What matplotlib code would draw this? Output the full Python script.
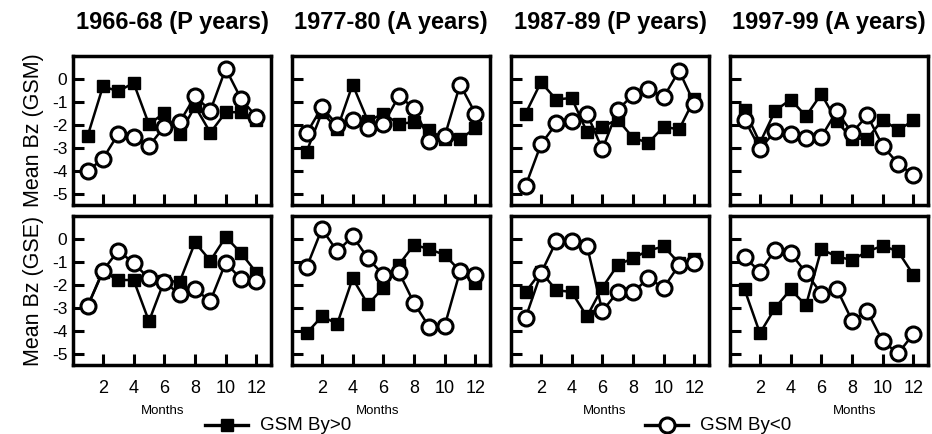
import matplotlib
matplotlib.use("Agg")
import matplotlib.pyplot as plt
import numpy as np

plt.rcParams['font.family'] = ['Liberation Sans', 'DejaVu Sans']

months = np.arange(1, 13)
titles = ["1966-68 (P years)", "1977-80 (A years)", "1987-89 (P years)", "1997-99 (A years)"]
row_labels = ["Mean Bz (GSM)", "Mean Bz (GSE)"]
xtick_vals = [2, 4, 6, 8, 10, 12]
ytick_vals = [0, -1, -2, -3, -4, -5]
legend_pos = ["GSM By>0", "GSM By<0"]

# GSM row, By>0 (squares)
gsm_pos_1966 = [-2.48, -0.32, -0.53, -0.17, -1.97, -1.47, -2.40, -1.18, -2.33, -1.44, -1.44, -1.76]
gsm_pos_1977 = [-3.16, -1.44, -2.16, -0.24, -1.83, -1.50, -1.95, -1.87, -2.22, -2.62, -2.62, -2.12]
gsm_pos_1987 = [-1.50, -0.14, -0.89, -0.82, -2.30, -2.07, -1.76, -2.55, -2.77, -2.07, -2.19, -0.86]
gsm_pos_1997 = [-1.35, -2.77, -1.37, -0.89, -1.61, -0.65, -1.83, -2.59, -2.59, -1.76, -2.22, -1.80]
# GSM row, By<0 (circles)
gsm_neg_1966 = [-3.99, -3.46, -2.38, -2.51, -2.91, -2.07, -1.87, -0.75, -1.37, 0.45, -0.86, -1.64]
gsm_neg_1977 = [-2.36, -1.22, -2.00, -1.80, -2.12, -1.97, -0.75, -1.25, -2.67, -2.48, -0.24, -1.50]
gsm_neg_1987 = [-4.64, -2.84, -1.93, -1.83, -1.50, -3.05, -1.35, -0.68, -0.43, -0.78, 0.36, -1.07]
gsm_neg_1997 = [-1.76, -3.03, -2.26, -2.38, -2.55, -2.51, -1.40, -2.33, -1.58, -2.91, -3.67, -4.18]
# GSE row, By>0 (squares)
gse_pos_1966 = [-2.92, -1.42, -1.78, -1.78, -3.57, -1.81, -1.86, -0.15, -0.94, 0.09, -0.61, -1.46]
gse_pos_1977 = [-4.09, -3.36, -3.68, -1.71, -2.84, -2.11, -1.13, -0.25, -0.44, -0.69, -1.39, -1.90]
gse_pos_1987 = [-2.30, -1.42, -2.22, -2.30, -3.36, -2.11, -1.13, -0.83, -0.50, -0.32, -1.05, -0.88]
gse_pos_1997 = [-2.19, -4.09, -2.98, -2.19, -2.88, -0.44, -0.76, -0.91, -0.54, -0.29, -0.54, -1.56]
# GSE row, By<0 (circles)
gse_neg_1966 = [-2.92, -1.37, -0.50, -1.05, -1.71, -1.86, -2.40, -2.19, -2.69, -1.02, -1.75, -1.81]
gse_neg_1977 = [-1.23, 0.44, -0.54, 0.12, -0.83, -1.56, -1.42, -2.78, -3.83, -3.76, -1.40, -1.56]
gse_neg_1987 = [-3.42, -1.49, -0.10, -0.10, -0.29, -3.13, -2.30, -2.30, -1.71, -2.11, -1.13, -1.02]
gse_neg_1997 = [-0.79, -1.42, -0.47, -0.61, -1.46, -2.37, -2.15, -3.54, -3.14, -4.44, -4.97, -4.12]

pos_rows = [[gsm_pos_1966, gsm_pos_1977, gsm_pos_1987, gsm_pos_1997],
            [gse_pos_1966, gse_pos_1977, gse_pos_1987, gse_pos_1997]]
neg_rows = [[gsm_neg_1966, gsm_neg_1977, gsm_neg_1987, gsm_neg_1997],
            [gse_neg_1966, gse_neg_1977, gse_neg_1987, gse_neg_1997]]

W, H = 932, 434
fig = plt.figure(figsize=(W / 100, H / 100), dpi=100)

col_left = [73, 292, 511, 730]
ax_w = 198
row_top = [56, 216]
ax_h = 149
months_x = [163, 378, 605, 855]

sq_kw = dict(color='black', lw=1.8, marker='s', ms=9.3, mfc='black', mec='black', zorder=3)
ci_kw = dict(color='black', lw=1.8, marker='o', ms=10.8, mfc='white', mec='black', mew=2.2, zorder=4)

for r in range(2):
    for c in range(4):
        l = col_left[c] / W
        b = 1 - (row_top[r] + ax_h) / H
        ax = fig.add_axes([l, b, ax_w / W, ax_h / H])
        ax.plot(months, pos_rows[r][c], **sq_kw)
        ax.plot(months, neg_rows[r][c], **ci_kw)
        ax.set_xlim(0.05, 12.95)
        ax.set_ylim(-5.47, 1.0)
        ax.set_xticks(xtick_vals)
        ax.set_yticks(ytick_vals)
        for s in ax.spines.values():
            s.set_linewidth(2.5)
        ax.tick_params(direction='in', length=8, width=2.2, top=False, right=False)
        ax.tick_params(axis='x', labelsize=13, pad=11)
        ax.tick_params(axis='y', labelsize=12.5, pad=4)
        if c == 0:
            ax.set_yticklabels([str(v) for v in ytick_vals])
            ax.set_ylabel(row_labels[r], fontsize=15.5, labelpad=6)
        else:
            ax.set_yticklabels([])
        if r == 1:
            ax.set_xticklabels([str(v) for v in xtick_vals])
            fig.text(months_x[c] / W, 1 - 411 / H, "Months", fontsize=9.5,
                     ha='center', va='center')
        else:
            ax.set_xticklabels([])
        if r == 0:
            fig.text((col_left[c] + ax_w / 2) / W, 1 - 23 / H, titles[c],
                     fontsize=17, fontweight='bold', ha='center', va='center')

# legend-like keys at bottom
lax = fig.add_axes([0, 0, 1, 1], facecolor='none')
lax.set_xlim(0, W)
lax.set_ylim(H, 0)
lax.axis('off')
key_y = 425
lax.plot([205, 248], [key_y, key_y], color='black', lw=2.4)
lax.plot([226.5], [key_y], marker='s', ms=9.3, color='black')
lax.text(260, key_y, legend_pos[0], fontsize=13.5, ha='left', va='center')
lax.plot([645, 688], [key_y, key_y], color='black', lw=2.4)
lax.plot([666.5], [key_y], marker='o', ms=10.8, mfc='white', mec='black', mew=2.2)
lax.text(700, key_y, legend_pos[1], fontsize=13.5, ha='left', va='center')

fig.savefig("out.png", dpi=100)
